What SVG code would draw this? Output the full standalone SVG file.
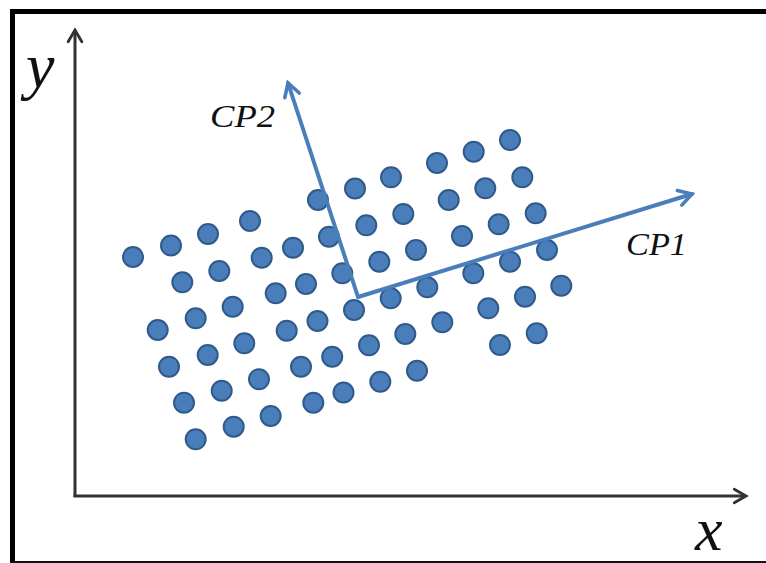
<svg xmlns="http://www.w3.org/2000/svg" width="766" height="563" viewBox="0 0 766 563">
<defs>
<style>
.dot{fill:#4A7EBB;stroke:#2F5A8A;stroke-width:2}
.axis{stroke:#333;stroke-width:3;fill:none}
.cp{stroke:#4A7EBB;stroke-width:4;fill:none;stroke-linecap:round}
.lbl{font-family:"Liberation Serif",serif;font-style:italic;fill:#111}
</style>
<marker id="ah" viewBox="0 0 10 10" refX="8.3" refY="5" markerWidth="6" markerHeight="6" markerUnits="strokeWidth" orient="auto">
<path d="M1.8,1.2 L8.3,5 L1.8,8.8" fill="none" stroke="#333" stroke-width="1.6" stroke-linejoin="miter" stroke-linecap="round"/>
</marker>
<marker id="ahb" viewBox="0 0 10 10" refX="8.3" refY="5" markerWidth="5" markerHeight="5" markerUnits="strokeWidth" orient="auto">
<path d="M1.8,1.2 L8.3,5 L1.8,8.8" fill="none" stroke="#4A7EBB" stroke-width="1.8" stroke-linejoin="miter" stroke-linecap="round"/>
</marker>
</defs>
<rect width="766" height="563" fill="#fff"/>
<g id="frame">
<line x1="10" y1="11.5" x2="766" y2="11.5" stroke="#000" stroke-width="5"/>
<line x1="12.5" y1="9" x2="12.5" y2="563" stroke="#000" stroke-width="5"/>
<line x1="10" y1="562" x2="766" y2="562" stroke="#111" stroke-width="2"/>
</g>
<g id="dots">
<circle class="dot" cx="133" cy="257" r="10"/>
<circle class="dot" cx="171" cy="245.5" r="10"/>
<circle class="dot" cx="208" cy="234" r="10"/>
<circle class="dot" cx="250" cy="221" r="10"/>
<circle class="dot" cx="318" cy="200" r="10"/>
<circle class="dot" cx="355" cy="188.5" r="10"/>
<circle class="dot" cx="391" cy="177.3" r="10"/>
<circle class="dot" cx="437" cy="163" r="10"/>
<circle class="dot" cx="473.7" cy="151.7" r="10"/>
<circle class="dot" cx="510" cy="140" r="10"/>
<circle class="dot" cx="182.3" cy="282.3" r="10"/>
<circle class="dot" cx="219.3" cy="271" r="10"/>
<circle class="dot" cx="261.7" cy="257.7" r="10"/>
<circle class="dot" cx="293" cy="247.7" r="10"/>
<circle class="dot" cx="329" cy="236.7" r="10"/>
<circle class="dot" cx="366.3" cy="225.3" r="10"/>
<circle class="dot" cx="403.3" cy="214" r="10"/>
<circle class="dot" cx="448.7" cy="200" r="10"/>
<circle class="dot" cx="485.3" cy="188.3" r="10"/>
<circle class="dot" cx="522.3" cy="177.3" r="10"/>
<circle class="dot" cx="157.7" cy="330" r="10"/>
<circle class="dot" cx="195.7" cy="318.3" r="10"/>
<circle class="dot" cx="232.7" cy="306.7" r="10"/>
<circle class="dot" cx="275.7" cy="293.3" r="10"/>
<circle class="dot" cx="306" cy="284" r="10"/>
<circle class="dot" cx="342.3" cy="273.3" r="10"/>
<circle class="dot" cx="379.3" cy="261.7" r="10"/>
<circle class="dot" cx="416" cy="250" r="10"/>
<circle class="dot" cx="462" cy="236" r="10"/>
<circle class="dot" cx="498.7" cy="224.3" r="10"/>
<circle class="dot" cx="535.7" cy="213.3" r="10"/>
<circle class="dot" cx="169" cy="366.7" r="10"/>
<circle class="dot" cx="207.7" cy="355" r="10"/>
<circle class="dot" cx="244.3" cy="343.3" r="10"/>
<circle class="dot" cx="286.7" cy="330.7" r="10"/>
<circle class="dot" cx="317.5" cy="321" r="10"/>
<circle class="dot" cx="354" cy="310" r="10"/>
<circle class="dot" cx="390.7" cy="298.3" r="10"/>
<circle class="dot" cx="427.3" cy="287.3" r="10"/>
<circle class="dot" cx="473.3" cy="273.3" r="10"/>
<circle class="dot" cx="510" cy="261.7" r="10"/>
<circle class="dot" cx="547" cy="250" r="10"/>
<circle class="dot" cx="184" cy="402.7" r="10"/>
<circle class="dot" cx="221.7" cy="390.7" r="10"/>
<circle class="dot" cx="259" cy="379.3" r="10"/>
<circle class="dot" cx="301" cy="366.7" r="10"/>
<circle class="dot" cx="332.2" cy="356.7" r="10"/>
<circle class="dot" cx="369" cy="345.3" r="10"/>
<circle class="dot" cx="405.3" cy="334" r="10"/>
<circle class="dot" cx="442.3" cy="322.3" r="10"/>
<circle class="dot" cx="488.3" cy="308.3" r="10"/>
<circle class="dot" cx="525" cy="296.7" r="10"/>
<circle class="dot" cx="561.3" cy="285.7" r="10"/>
<circle class="dot" cx="195.7" cy="439.3" r="10"/>
<circle class="dot" cx="233.7" cy="426.7" r="10"/>
<circle class="dot" cx="270.7" cy="416" r="10"/>
<circle class="dot" cx="313.3" cy="402.7" r="10"/>
<circle class="dot" cx="343.5" cy="392.5" r="10"/>
<circle class="dot" cx="380.3" cy="381.7" r="10"/>
<circle class="dot" cx="417" cy="370.7" r="10"/>
<circle class="dot" cx="500" cy="345" r="10"/>
<circle class="dot" cx="536.7" cy="333.3" r="10"/>
</g>
<g id="connectors">
<line id="y-axis" class="axis" x1="75" y1="497" x2="75" y2="30" marker-end="url(#ah)"/>
<line id="x-axis" class="axis" x1="73.5" y1="496" x2="746" y2="496" marker-end="url(#ah)"/>
<line id="cp1" class="cp" x1="358" y1="297" x2="692" y2="194" marker-end="url(#ahb)"/>
<line id="cp2" class="cp" x1="358" y1="297" x2="288" y2="83" marker-end="url(#ahb)"/>
</g>
<g id="labels">
<text class="lbl" x="26" y="87" font-size="64">y</text>
<text class="lbl" x="695" y="550" font-size="62">x</text>
<text class="lbl" x="210" y="127" font-size="31" textLength="65" lengthAdjust="spacingAndGlyphs">CP2</text>
<text class="lbl" x="626" y="255" font-size="31" textLength="61" lengthAdjust="spacingAndGlyphs">CP1</text>
</g>
</svg>
